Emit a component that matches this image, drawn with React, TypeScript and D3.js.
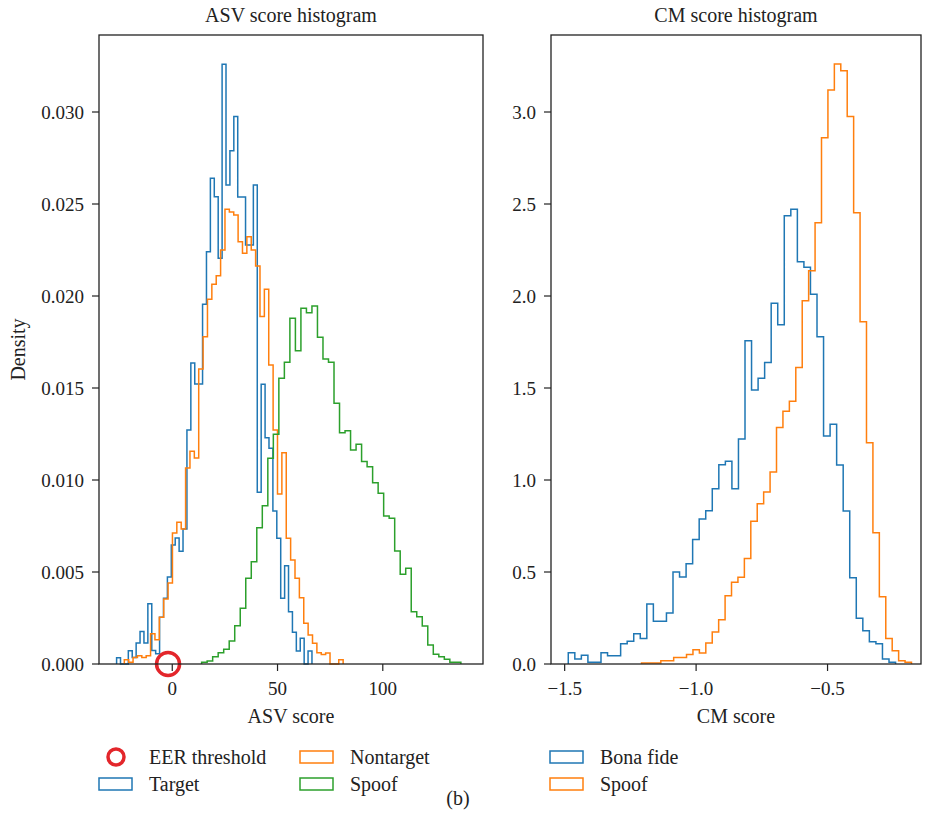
import React from 'react';
import * as d3 from 'd3';

const width = 926;
const height = 833;

// ASV score histogram (density per bin, equal-width bins)
const targetStart = -26.44;
const targetBinWidth = 1.856;
const targetDensity = [
  0.00034, 0, 0, 0.00072, 0.00036, 0.00114, 0.00176, 0.00114, 0.00328, 0.00074,
  0.00056, 0.00254, 0.00357, 0.00473, 0.00647, 0.00685, 0.00613, 0.00734, 0.01272, 0.01636,
  0.01522, 0.01522, 0.01955, 0.02241, 0.0264, 0.0254, 0.02205, 0.03259, 0.02603, 0.0279,
  0.02975, 0.02538, 0.02538, 0.02277, 0.02277, 0.02603, 0.00933, 0.0152, 0.0123, 0.01172,
  0.00832, 0.00683, 0.00357, 0.00534, 0.00284, 0.00172, 0.00071, 0.0014, 0, 0.00071
];

const nontargetStart = -22.78;
const nontargetBinWidth = 2.079;
const nontargetDensity = [
  0.00023, 0.00009, 0.00036, 0.00045, 0.00036, 0.00045, 0.00165, 0.00132, 0.00254, 0.00353,
  0.0044, 0.00712, 0.0077, 0.00734, 0.01065, 0.01156, 0.0112, 0.01603, 0.01779, 0.01982,
  0.02064, 0.0211, 0.0225, 0.02471, 0.02457, 0.0244, 0.02295, 0.02232, 0.02322, 0.0225,
  0.02163, 0.01888, 0.02037, 0.01625, 0.01272, 0.00924, 0.01148, 0.00683, 0.00565, 0.00466,
  0.0036, 0.00221, 0.00158, 0.00113, 0.00061, 0.00051, 0.0006, 0, 0, 0.00023
];

const asvSpoofStart = 13.95;
const asvSpoofBinWidth = 2.62;
const asvSpoofDensity = [
  0.00009, 0.00016, 0.0004, 0.00061, 0.0008, 0.00125, 0.00208, 0.00303, 0.00466, 0.00556,
  0.00741, 0.0086, 0.01118, 0.01248, 0.01553, 0.0164, 0.01879, 0.01703, 0.01933, 0.01909,
  0.01946, 0.01776, 0.01658, 0.0164, 0.01417, 0.01257, 0.01268, 0.01163, 0.01194, 0.011,
  0.01072, 0.00985, 0.00928, 0.00804, 0.00792, 0.00614, 0.00488, 0.0052, 0.00284, 0.00257,
  0.00207, 0.00103, 0.00053, 0.0004, 0.00026, 0.00009, 0.00009
];

const eerThreshold = -2.0;

// CM score histogram
const bonaFideStart = -1.4863;
const bonaFideBinWidth = 0.0249;
const bonaFideDensity = [
  0.061, 0.027, 0.047, 0.009, 0.009, 0.061, 0.045, 0.045, 0.11, 0.123,
  0.165, 0.138, 0.326, 0.232, 0.232, 0.277, 0.5, 0.473, 0.545, 0.676,
  0.788, 0.833, 0.953, 1.083, 1.102, 0.953, 1.223, 1.757, 1.489, 1.553,
  1.638, 1.96, 1.844, 2.436, 2.471, 2.186, 2.156, 2.009, 1.779, 1.239,
  1.303, 1.082, 0.832, 0.469, 0.248, 0.181, 0.121, 0.11, 0.027, 0.009
];

const cmSpoofStart = -1.2076;
const cmSpoofBinWidth = 0.02445;
const cmSpoofDensity = [
  0.005, 0.005, 0.005, 0.018, 0.018, 0.036, 0.036, 0.051, 0.078, 0.06,
  0.114, 0.174, 0.241, 0.371, 0.444, 0.471, 0.574, 0.776, 0.871, 0.935,
  1.043, 1.286, 1.373, 1.428, 1.612, 1.974, 2.137, 2.398, 2.86, 3.12,
  3.261, 3.224, 2.975, 2.453, 1.86, 1.203, 0.714, 0.366, 0.138, 0.072,
  0.018, 0.009
];

// ticks
const asvXTicks = [0, 50, 100];
const asvYTicks = [0, 0.005, 0.01, 0.015, 0.02, 0.025, 0.03];
const cmXTicks = [-1.5, -1.0, -0.5];
const cmYTicks = [0, 0.5, 1.0, 1.5, 2.0, 2.5, 3.0];

const BLUE = '#1f77b4';
const ORANGE = '#ff7f0e';
const GREEN = '#2ca02c';
const RED = '#e3262b';
const INK = '#222';
const FONT = "'Liberation Serif', 'DejaVu Serif', serif";

const top = 35;
const bottom = 664;

type Series = { start: number; binWidth: number; density: number[]; color: string };

// outline of a step histogram: up at the first edge, across every bin, down at the last edge
const stepPoints = (s: Series): [number, number][] => {
  const pts: [number, number][] = [[s.start, 0]];
  s.density.forEach((d, i) => {
    pts.push([s.start + i * s.binWidth, d]);
    pts.push([s.start + (i + 1) * s.binWidth, d]);
  });
  pts.push([s.start + s.density.length * s.binWidth, 0]);
  return pts;
};

const Panel = ({ left, right, xDomain, yDomain, xTicks, yTicks, xFmt, yFmt, title, xLabel, yLabel, series, children }: any) => {
  const x = d3.scaleLinear().domain(xDomain).range([left, right]);
  const y = d3.scaleLinear().domain(yDomain).range([bottom, top]);
  const line = d3.line<[number, number]>().x(d => x(d[0])).y(d => y(d[1]));
  const cx = (left + right) / 2;

  return (
    <g>
      {series.map((s: Series, i: number) => (
        <path key={i} d={line(stepPoints(s)) || ''} fill="none" stroke={s.color} strokeWidth={1.5} strokeLinejoin="miter" />
      ))}
      {children && children(x, y)}
      <rect x={left} y={top} width={right - left} height={bottom - top} fill="none" stroke={INK} strokeWidth={1.3} />
      {xTicks.map((t: number) => (
        <g key={t}>
          <line x1={x(t)} x2={x(t)} y1={bottom} y2={bottom + 7} stroke={INK} strokeWidth={1.2} />
          <text x={x(t)} y={bottom + 31} textAnchor="middle" fontSize={19} fill={INK}>{xFmt(t)}</text>
        </g>
      ))}
      {yTicks.map((t: number) => (
        <g key={t}>
          <line x1={left - 7} x2={left} y1={y(t)} y2={y(t)} stroke={INK} strokeWidth={1.2} />
          <text x={left - 15} y={y(t)} dy="0.35em" textAnchor="end" fontSize={19} fill={INK}>{yFmt(t)}</text>
        </g>
      ))}
      <text x={cx} y={22} textAnchor="middle" fontSize={20} fill={INK}>{title}</text>
      <text x={cx} y={723} textAnchor="middle" fontSize={20} fill={INK}>{xLabel}</text>
      {yLabel && (
        <text transform={`translate(25,${(top + bottom) / 2}) rotate(-90)`} textAnchor="middle" fontSize={20} fill={INK}>{yLabel}</text>
      )}
    </g>
  );
};

const minusFmt = (f: string) => (v: number) => d3.format(f)(v).replace('-', '\u2212');

const legendColumns = [99, 300, 550];
const legendRows = [757, 784];
const legendEntries = [
  { label: 'EER threshold', color: RED, marker: true, col: 0, row: 0 },
  { label: 'Target', color: BLUE, marker: false, col: 0, row: 1 },
  { label: 'Nontarget', color: ORANGE, marker: false, col: 1, row: 0 },
  { label: 'Spoof', color: GREEN, marker: false, col: 1, row: 1 },
  { label: 'Bona fide', color: BLUE, marker: false, col: 2, row: 0 },
  { label: 'Spoof', color: ORANGE, marker: false, col: 2, row: 1 }
];

const App = () => {
  const asvSeries: Series[] = [
    { start: targetStart, binWidth: targetBinWidth, density: targetDensity, color: BLUE },
    { start: nontargetStart, binWidth: nontargetBinWidth, density: nontargetDensity, color: ORANGE },
    { start: asvSpoofStart, binWidth: asvSpoofBinWidth, density: asvSpoofDensity, color: GREEN }
  ];
  const cmSeries: Series[] = [
    { start: bonaFideStart, binWidth: bonaFideBinWidth, density: bonaFideDensity, color: BLUE },
    { start: cmSpoofStart, binWidth: cmSpoofBinWidth, density: cmSpoofDensity, color: ORANGE }
  ];

  return (
    <svg width={width} height={height} style={{ display: 'block', position: 'absolute', left: 0, top: 0, background: '#fff' }} fontFamily={FONT}>
      <Panel
        left={99} right={483}
        xDomain={[-34.8, 147.6]} yDomain={[0, 0.034185]}
        xTicks={asvXTicks} yTicks={asvYTicks}
        xFmt={minusFmt('d')} yFmt={d3.format('.3f')}
        title="ASV score histogram" xLabel="ASV score" yLabel="Density"
        series={asvSeries}
      >
        {(x: any, y: any) => (
          <circle cx={x(eerThreshold)} cy={y(0)} r={11.5} fill="none" stroke={RED} strokeWidth={3.5} />
        )}
      </Panel>
      <Panel
        left={551} right={921}
        xDomain={[-1.552, -0.1445]} yDomain={[0, 3.4185]}
        xTicks={cmXTicks} yTicks={cmYTicks}
        xFmt={minusFmt('.1f')} yFmt={d3.format('.1f')}
        title="CM score histogram" xLabel="CM score" yLabel={null}
        series={cmSeries}
      />
      <g fontSize={20} fill={INK}>
        {legendEntries.map((e, i) => {
          const lx = legendColumns[e.col];
          const ly = legendRows[e.row];
          return (
            <g key={i}>
              {e.marker ? (
                <circle cx={lx + 17} cy={ly} r={8} fill="none" stroke={e.color} strokeWidth={3.5} />
              ) : (
                <rect x={lx} y={ly - 6} width={33} height={12} fill="none" stroke={e.color} strokeWidth={1.5} />
              )}
              <text x={lx + 50} y={ly} dy="0.35em">{e.label}</text>
            </g>
          );
        })}
        <text x={458} y={805} textAnchor="middle">(b)</text>
      </g>
    </svg>
  );
};

export default App;
